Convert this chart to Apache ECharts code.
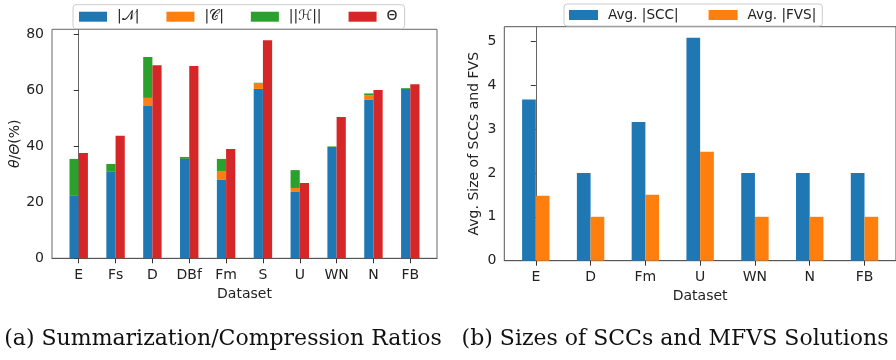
<!DOCTYPE html>
<html lang="en">
<head>
    <meta charset="UTF-8">
    <title>summarization_and_scc_charts</title>
    <script src="https://cdn.jsdelivr.net/npm/echarts@6/dist/echarts.min.js"></script>
    <style>
        body { margin: 0; background: #fff; }
    </style>
</head>

<body>
    <div id="mainChart" style="width: 896px; height: 360px;"></div>
    <script>
        // (a) summarization / compression ratios
        const datasetsA = ['E', 'Fs', 'D', 'DBf', 'Fm', 'S', 'U', 'WN', 'N', 'FB']
        const nodeRatio = [22.3, 30.9, 54.4, 35.5, 28.0, 60.5, 23.7, 39.8, 56.6, 60.5]
        const coreRatio = [0, 0, 2.9, 0, 3.2, 1.9, 1.4, 0, 1.7, 0]
        const hyperRatio = [13.2, 2.8, 14.6, 0.7, 4.3, 0.3, 6.4, 0.2, 0.6, 0.3]
        const thetaRatio = [37.6, 43.8, 69.0, 68.7, 39.0, 77.9, 26.9, 50.5, 60.1, 62.2]
        const ticksA = [0, 20, 40, 60, 80]

        // (b) sizes of SCCs and MFVS solutions
        const datasetsB = ['E', 'D', 'Fm', 'U', 'WN', 'N', 'FB']
        const sccAvg = [3.67, 2, 3.16, 5.08, 2, 2, 2]
        const fvsAvg = [1.48, 1, 1.5, 2.48, 1, 1, 1]
        const ticksB = [0, 1, 2, 3, 4, 5]

        const blue = '#1f77b4', orange = '#ff7f0e', green = '#2ca02c', red = '#d62728'
        const font = 'DejaVu Sans'
        const fs = 14

        // value first, position second, so stacking runs on the value dimension
        function pts(vals) {
            return vals.map((v, i) => [v, i])
        }

        function xAxisOf(idx, cats, min, max) {
            let idxs = cats.map((c, i) => i)
            return {
                type: 'value', gridIndex: idx, min: min, max: max,
                name: 'Dataset', nameLocation: 'middle', nameGap: 27,
                nameTextStyle: { fontFamily: font, fontSize: fs, color: '#222' },
                axisLine: { show: true, lineStyle: { color: '#555', width: 1 } },
                axisTick: { show: true, length: 5, customValues: idxs, lineStyle: { color: '#333' } },
                axisLabel: {
                    customValues: idxs, margin: 10, fontFamily: font, fontSize: fs, color: '#222',
                    formatter: v => cats[Math.round(v)]
                },
                splitLine: { show: false }
            }
        }

        function yAxisOf(idx, name, ticks, max, gap) {
            return {
                type: 'value', gridIndex: idx, min: 0, max: max,
                name: name, nameLocation: 'middle', nameGap: gap,
                nameTextStyle: {
                    fontFamily: font, fontSize: fs, color: '#222',
                    rich: { i: { fontFamily: font, fontSize: fs, fontStyle: 'italic', color: '#222' } }
                },
                axisLine: { show: true, lineStyle: { color: '#666', width: 1 } },
                axisTick: { show: true, length: 5, customValues: ticks, lineStyle: { color: '#333' } },
                axisLabel: { customValues: ticks, margin: 8, fontFamily: font, fontSize: fs, color: '#222' },
                splitLine: { show: false }
            }
        }

        function barOf(name, grid, vals, color, stack) {
            let s = {
                type: 'bar', name: name, xAxisIndex: grid, yAxisIndex: grid,
                barWidth: '25%', barGap: '0%', itemStyle: { color: color },
                encode: { x: 1, y: 0 }, data: pts(vals)
            }
            if (stack) s.stack = stack
            return s
        }

        let legendText = { fontFamily: font, fontSize: fs, color: '#222', padding: [0, 0, 0, 5] }

        let chartsData = {
            animation: false,
            grid: [
                { left: 52, top: 29.3, width: 385, height: 229, show: true, borderColor: '#666', borderWidth: 1 },
                { left: 504.3, top: 26.7, width: 392, height: 234, show: true, borderColor: '#555', borderWidth: 1 }
            ],
            legend: [
                {
                    data: ['|𝒩|', '|𝒞|', '||ℋ||', 'Θ'],
                    left: 73, top: 4.7, itemWidth: 28, itemHeight: 10, itemGap: 27,
                    padding: [5, 7, 5, 6], borderColor: '#ccc', borderWidth: 1, borderRadius: 3,
                    backgroundColor: 'rgba(255,255,255,0.8)',
                    icon: 'rect', textStyle: legendText
                },
                {
                    data: ['Avg. |SCC|', 'Avg. |FVS|'],
                    left: 564, top: 4, itemWidth: 29, itemHeight: 10, itemGap: 30,
                    padding: [4, 6, 4, 5], borderColor: '#ccc', borderWidth: 1, borderRadius: 3,
                    backgroundColor: 'rgba(255,255,255,0.8)',
                    icon: 'rect', textStyle: Object.assign({}, legendText, { fontSize: 13.6 })
                }
            ],
            xAxis: [
                xAxisOf(0, datasetsA, -0.725, 9.725),
                Object.assign(xAxisOf(1, datasetsB, -0.575, 6.575), { nameGap: 28 })
            ],
            yAxis: [
                yAxisOf(0, '{i|θ}/{i|Θ}(%)', ticksA, 81.8, 30),
                yAxisOf(1, 'Avg. Size of SCCs and FVS', ticksB, 5.33, 23)
            ],
            series: [
                barOf('|𝒩|', 0, nodeRatio, blue, 'a'),
                barOf('|𝒞|', 0, coreRatio, orange, 'a'),
                barOf('||ℋ||', 0, hyperRatio, green, 'a'),
                barOf('Θ', 0, thetaRatio, red),
                barOf('Avg. |SCC|', 1, sccAvg, blue),
                barOf('Avg. |FVS|', 1, fvsAvg, orange)
            ],
            graphic: [
                {
                    type: 'text', x: 223, y: 339,
                    style: { text: '(a) Summarization/Compression Ratios', font: '22px "DejaVu Serif"', fill: '#111', align: 'center', verticalAlign: 'middle', textAlign: 'center', textVerticalAlign: 'middle' }
                },
                {
                    type: 'text', x: 675, y: 339,
                    style: { text: '(b) Sizes of SCCs and MFVS Solutions', font: '22px "DejaVu Serif"', fill: '#111', align: 'center', verticalAlign: 'middle', textAlign: 'center', textVerticalAlign: 'middle' }
                }
            ]
        }

        let charts = echarts.init(document.querySelector('#mainChart'))
        charts.setOption(chartsData, true)
    </script>
</body>

</html>
